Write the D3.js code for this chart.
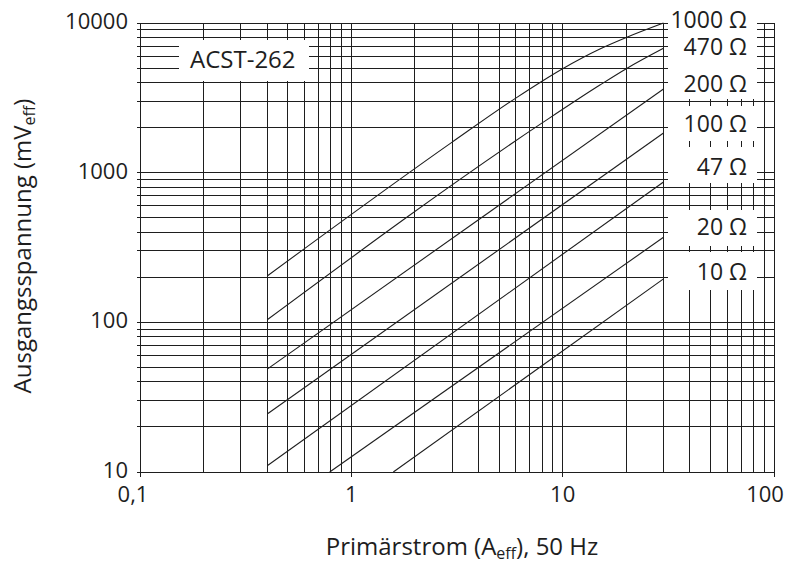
<!DOCTYPE html>
<html>
<head>
<meta charset="utf-8">
<script src="https://cdn.jsdelivr.net/npm/d3@7/dist/d3.min.js"></script>
<style>
  html, body { margin: 0; padding: 0; background: #fff; }
  svg { display: block; font-family: "Open Sans", "Noto Sans", sans-serif; }
</style>
</head>
<body>
<svg id="chart" width="798" height="564"></svg>
<script>
// ---------------- data ----------------
const xTickValues = [0.1, 1, 10, 100];
const xTickLabels = ["0,1", "1", "10", "100"];
const yTickValues = [10, 100, 1000, 10000];
const yTickLabels = ["10", "100", "1000", "10000"];

const seriesNames = ["1000 Ω", "470 Ω", "200 Ω", "100 Ω", "47 Ω", "20 Ω", "10 Ω"];
const curve1000 = [[0.4, 204], [3, 1600], [6, 3150], [10, 4950], [15, 6700], [20, 8000], [30, 9990]];
const curve470  = [[0.4, 104], [8, 2150], [15, 3850], [20, 4950], [30, 6777]];
const curve200  = [[0.4, 48.7], [30, 3622]];
const curve100  = [[0.4, 24.4], [30, 1841]];
const curve47   = [[0.4, 11.0], [30, 867]];
const curve20   = [[0.79, 10], [30, 370]];
const curve10   = [[1.58, 10], [30, 195]];
const seriesValues = [curve1000, curve470, curve200, curve100, curve47, curve20, curve10];

const chartLabel = "ACST-262";
const xTitle = ["Primärstrom (A", "eff", "), 50 Hz"];
const yTitle = ["Ausgangsspannung (mV", "eff", ")"];

// ---------------- layout ----------------
const svg = d3.select("#chart");
const x = d3.scaleLog().domain([0.1, 100]).range([140, 774]);
const y = d3.scaleLog().domain([10, 10000]).range([472, 23]);
const ink = "#1e1e1e";

const grid = svg.append("g").attr("shape-rendering", "crispEdges");
// vertical grid lines
grid.selectAll("line.vx").data(x.ticks()).join("line")
  .attr("x1", d => x(d)).attr("x2", d => x(d))
  .attr("y1", y(10000))
  .attr("y2", d => xTickValues.some(t => Math.abs(t - d) < 1e-9) ? y(10) + 5 : y(10))
  .attr("stroke", ink).attr("stroke-width", 1);
// horizontal grid lines
grid.selectAll("line.hy").data(y.ticks()).join("line")
  .attr("y1", d => y(d)).attr("y2", d => y(d))
  .attr("x1", x(0.1) - 3).attr("x2", x(100))
  .attr("stroke", ink).attr("stroke-width", 1);

// white label boxes at the right
const boxes = [[0, 99], [106, 141], [147, 183], [210, 246], [252, 290]];
svg.append("g").selectAll("rect").data(boxes).join("rect")
  .attr("x", 668).attr("width", 89)
  .attr("y", d => d[0]).attr("height", d => d[1] - d[0])
  .attr("fill", "#fff");

// ACST box
svg.append("rect").attr("x", 179).attr("y", 40).attr("width", 130).attr("height", 41).attr("fill", "#fff");
svg.append("text").attr("x", 190).attr("y", 68).attr("font-size", 24).attr("fill", ink).text(chartLabel);

// curves
const line = d3.line().x(d => x(d[0])).y(d => y(d[1])).curve(d3.curveMonotoneX);
svg.append("g").selectAll("path").data(seriesValues).join("path")
  .attr("d", line).attr("fill", "none").attr("stroke", ink).attr("stroke-width", 1.1);

// series labels
const labelBaselines = [28, 55, 92, 132, 175, 235, 280];
svg.append("g").selectAll("text").data(seriesNames).join("text")
  .attr("x", 747).attr("y", (d, i) => labelBaselines[i])
  .attr("text-anchor", "end").attr("font-size", 23).attr("fill", ink)
  .text(d => d);

// axis tick labels
svg.append("g").selectAll("text").data(yTickValues).join("text")
  .attr("x", 128).attr("y", d => y(d) + 6)
  .attr("text-anchor", "end").attr("font-size", 22).attr("fill", ink)
  .text((d, i) => yTickLabels[i]);
const xdx = [-7, 0, 0, -9];
svg.append("g").selectAll("text").data(xTickValues).join("text")
  .attr("x", (d, i) => x(d) + xdx[i]).attr("y", 502)
  .attr("text-anchor", "middle").attr("font-size", 22).attr("fill", ink)
  .text((d, i) => xTickLabels[i]);

// axis titles
function titled(sel, parts) {
  sel.append("tspan").text(parts[0]);
  sel.append("tspan").attr("font-size", 16).attr("dy", 4).text(parts[1]);
  sel.append("tspan").attr("dy", -4).text(parts[2]);
}
const xt = svg.append("text").attr("x", 462).attr("y", 555)
  .attr("text-anchor", "middle").attr("font-size", 24).attr("fill", ink);
titled(xt, xTitle);
const yt = svg.append("text").attr("transform", "translate(31,246) rotate(-90)")
  .attr("text-anchor", "middle").attr("font-size", 24).attr("fill", ink);
titled(yt, yTitle);
</script>
</body>
</html>
